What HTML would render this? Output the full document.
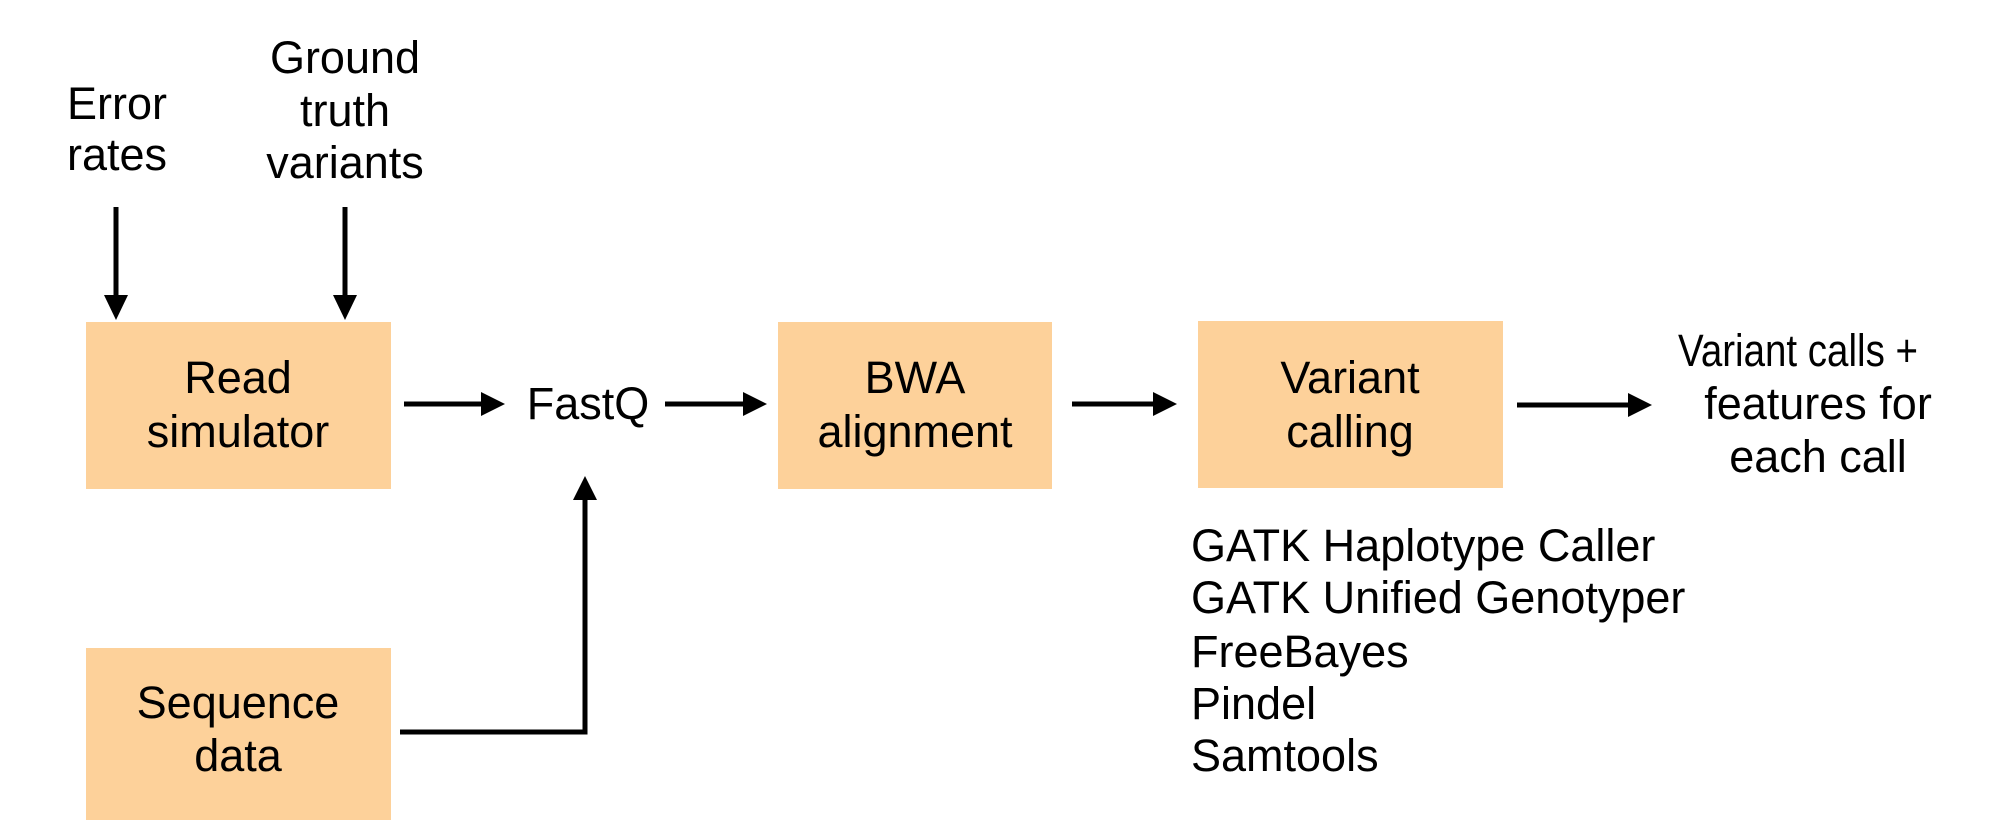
<!DOCTYPE html>
<html><head><meta charset="utf-8"><style>
html,body{margin:0;padding:0;background:#fff}
svg{display:block}
text{font-family:"Liberation Sans",Arial,sans-serif;font-size:45px;fill:#000}
</style></head><body>
<svg width="2000" height="820" viewBox="0 0 2000 820" xmlns="http://www.w3.org/2000/svg">
<g fill="#FDD19A">
<rect x="86" y="322" width="305" height="167"/>
<rect x="86" y="648" width="305" height="172"/>
<rect x="778" y="322" width="274" height="167"/>
<rect x="1198" y="321" width="305" height="167"/>
</g>
<g stroke="#000" stroke-width="5" fill="none">
<line x1="116" y1="207" x2="116" y2="298"/>
<line x1="345" y1="207" x2="345" y2="298"/>
<line x1="404" y1="404" x2="482" y2="404"/>
<line x1="665" y1="404" x2="744" y2="404"/>
<polyline points="400,732 585,732 585,498"/>
<line x1="1072" y1="404" x2="1154" y2="404"/>
<line x1="1517" y1="405" x2="1629" y2="405"/>
</g>
<g fill="#000">
<polygon points="104,295 128,295 116,320"/>
<polygon points="333,295 357,295 345,320"/>
<polygon points="481,392 481,416 505,404"/>
<polygon points="743,392 743,416 767,404"/>
<polygon points="573,500 597,500 585,476"/>
<polygon points="1153,392 1153,416 1177,404"/>
<polygon points="1628,393 1628,417 1652,405"/>
</g>
<g text-anchor="middle">
<text x="117" y="119">Error</text>
<text x="117" y="170">rates</text>
<text x="345" y="73">Ground</text>
<text x="345" y="126">truth</text>
<text x="345" y="178">variants</text>
<text x="238" y="393">Read</text>
<text x="238" y="447">simulator</text>
<text x="588" y="419">FastQ</text>
<text x="238" y="718">Sequence</text>
<text x="238" y="771">data</text>
<text x="915" y="393">BWA</text>
<text x="915" y="447">alignment</text>
<text x="1350" y="393">Variant</text>
<text x="1350" y="447">calling</text>
<text x="1798" y="366" textLength="240" lengthAdjust="spacingAndGlyphs">Variant calls +</text>
<text x="1818" y="419">features for</text>
<text x="1818" y="472">each call</text>
</g>
<g>
<text x="1191" y="561">GATK Haplotype Caller</text>
<text x="1191" y="613">GATK Unified Genotyper</text>
<text x="1191" y="667">FreeBayes</text>
<text x="1191" y="719">Pindel</text>
<text x="1191" y="771">Samtools</text>
</g>
</svg>
</body></html>
